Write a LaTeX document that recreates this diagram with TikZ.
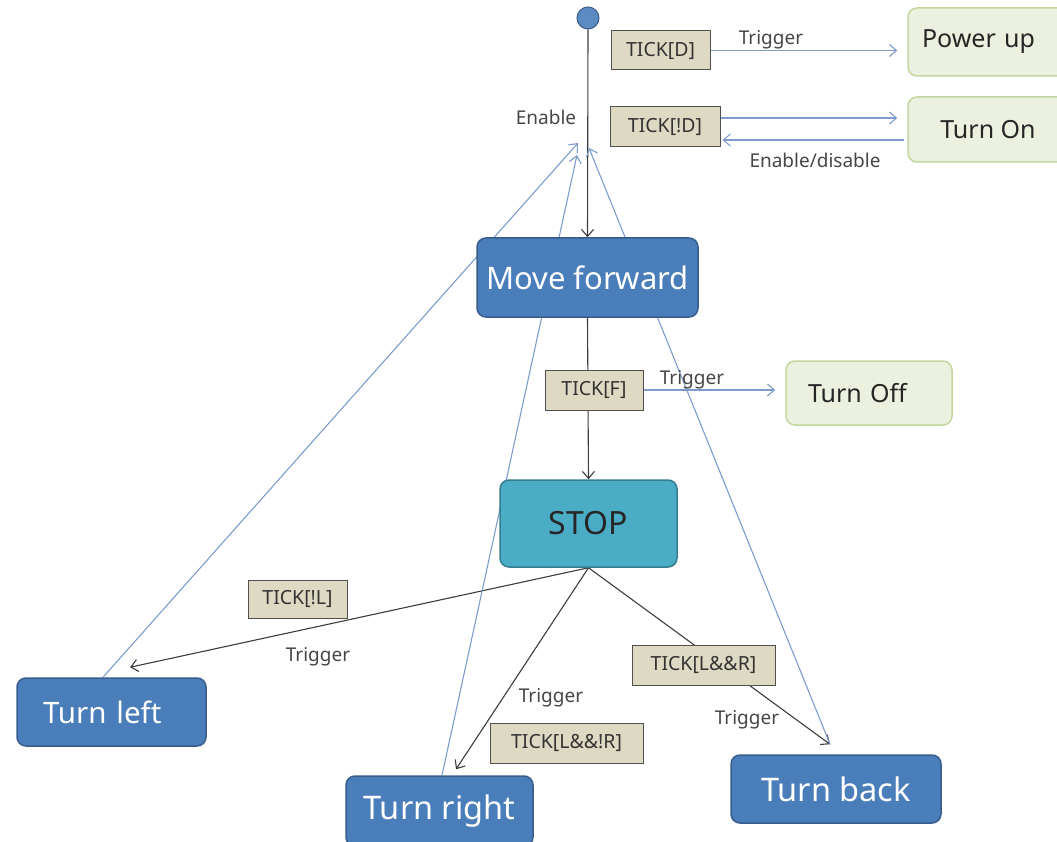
\documentclass[tikz,border=0pt]{standalone}
\usepackage{fontspec}
\setmainfont{Noto Sans}
\usetikzlibrary{arrows.meta,backgrounds}

\definecolor{stateblue}{RGB}{74,126,187}
\definecolor{stateblueline}{RGB}{56,93,138}
\definecolor{stopteal}{RGB}{75,172,198}
\definecolor{stoptealline}{RGB}{53,125,145}
\definecolor{guardtan}{RGB}{221,217,195}
\definecolor{guardline}{RGB}{80,80,80}
\definecolor{actgreen}{RGB}{235,241,222}
\definecolor{actgreenline}{RGB}{195,214,155}
\definecolor{linkblue}{RGB}{125,155,205}
\definecolor{linkdark}{RGB}{60,60,60}
\definecolor{labelgray}{RGB}{70,70,70}

\tikzset{
  x=1pt, y=1pt,
  state/.style={draw=stateblueline, line width=1.5pt, fill=stateblue,
    rounded corners=9pt, text=white, inner sep=0pt},
  stopstate/.style={draw=stoptealline, line width=1.5pt, fill=stopteal,
    rounded corners=9pt, text=black!85, inner sep=0pt},
  action/.style={draw=actgreenline, line width=1.5pt, fill=actgreen,
    rounded corners=9pt, text=black!85, inner sep=0pt,
    font=\fontsize{25}{29}\selectfont},
  guard/.style={draw=guardline, line width=1pt, fill=guardtan,
    text=black!80, inner sep=0pt, font=\fontsize{19.5}{22}\selectfont},
  lbl/.style={text=labelgray, font=\fontsize{19}{22}\selectfont, inner sep=0pt},
  darklink/.style={draw=linkdark, line width=1.1pt,
    -{Straight Barb[length=7pt,width=12pt]}},
  bluelink/.style={draw=linkblue, line width=1.1pt,
    -{Straight Barb[length=7pt,width=12pt]}},
}

\begin{document}
\begin{tikzpicture}
\useasboundingbox (0,0) rectangle (1057,-842);

% initial pseudo-state
\node[circle, draw=stateblueline, fill=stateblue!90!white, line width=1pt,
  minimum size=22pt, inner sep=0pt] (init) at (588,-18) {};

% states
\node[state, minimum width=221pt, minimum height=79pt,
  font=\fontsize{31}{35}\selectfont] (mf) at (587.5,-277.5) {Move forward};
\node[stopstate, minimum width=177pt, minimum height=87pt,
  font=\fontsize{32}{36}\selectfont] (stop) at (588.5,-523.5) {STOP};
\node[state, minimum height=68pt, text width=137pt, inner xsep=26pt,
  align=left, font=\fontsize{29.5}{33}\selectfont] (tl) at (111.5,-712) {Turn left};
\node[state, minimum width=187pt, minimum height=70pt,
  font=\fontsize{32.5}{36}\selectfont] (tr) at (439.5,-811) {Turn right};
\node[state, minimum width=210pt, minimum height=68pt,
  font=\fontsize{32.5}{36}\selectfont] (tb) at (836,-789) {Turn back};

% actions
\node[action, minimum height=68pt, text width=132pt, inner xsep=14pt,
  align=left] (pu) at (988,-42) {Power up};
\node[action, minimum width=160pt, minimum height=65pt] (ton) at (988,-129.5) {Turn On};
\node[action, minimum height=64pt, text width=122pt, inner xsep=22pt,
  align=left] (toff) at (869,-393) {Turn Off};

% guards
\node[guard, minimum width=99pt, minimum height=39pt] (gd) at (660.5,-50.5) {TICK[D]};
\node[guard, minimum width=110pt, minimum height=40pt] (gnd) at (665,-127) {TICK[!D]};
\node[guard, minimum width=98pt, minimum height=40pt] (gf) at (594,-390) {TICK[F]};
\node[guard, minimum width=99pt, minimum height=38pt] (gnl) at (297.5,-599) {TICK[!L]};
\node[guard, minimum width=153pt, minimum height=40pt] (glnr) at (566.5,-743) {TICK[L\&\&!R]};
\node[guard, minimum width=143pt, minimum height=40pt] (glr) at (703.5,-665) {TICK[L\&\&R]};

% labels
\node[lbl] (lbtrig1) at (771,-40) {Trigger};
\node[lbl] (lbena) at (546,-117) {Enable};
\node[lbl] (lbendis) at (815,-160) {Enable/disable};
\node[lbl] (lbtrig2) at (692,-380) {Trigger};
\node[lbl] (lbtrig3) at (318,-657) {Trigger};
\node[lbl] (lbtrig4) at (551,-698) {Trigger};
\node[lbl] (lbtrig5) at (747,-720) {Trigger};

% arrow end points
\coordinate (en1) at (578,-143);
\coordinate (en2) at (577,-155);
\coordinate (en3) at (589,-148);
\coordinate (tlin) at ([xshift=18.5pt,yshift=10pt]tl.north);
\coordinate (trin) at ([xshift=16.5pt,yshift=6pt]tr.north);
\coordinate (tbin) at ([xshift=-6pt,yshift=10pt]tb.north);

\begin{scope}[on background layer]
  % main flow
  \draw[darklink] (init.south) -- (mf.north);
  \draw[darklink] (mf.south) -- (stop.north);
  \draw[darklink] (stop.south) -- (tlin);
  \draw[darklink] (stop.south) -- (trin);
  \draw[darklink] (stop.south) -- (tbin);

  % returns to the enable point
  \draw[bluelink] ([xshift=-8.5pt]tl.north) -- (en1);
  \draw[bluelink] ([xshift=2.5pt]tr.north) -- (en2);
  \draw[bluelink] (tbin) -- (en3);

  % triggers to actions
  \draw[bluelink] (gd.east) -- ([xshift=-10pt]gd.east -| pu.west);
  \draw[bluelink] ([yshift=9pt]gnd.east) -- ([xshift=-10pt,yshift=9pt]gnd.east -| ton.west);
  \draw[bluelink] ([xshift=-3pt,yshift=-13pt]gnd.east -| ton.west) -- ([xshift=2pt,yshift=-13pt]gnd.east);
  \draw[bluelink] (gf.east) -- ([xshift=-10pt]gf.east -| toff.west);
\end{scope}
\end{tikzpicture}
\end{document}
